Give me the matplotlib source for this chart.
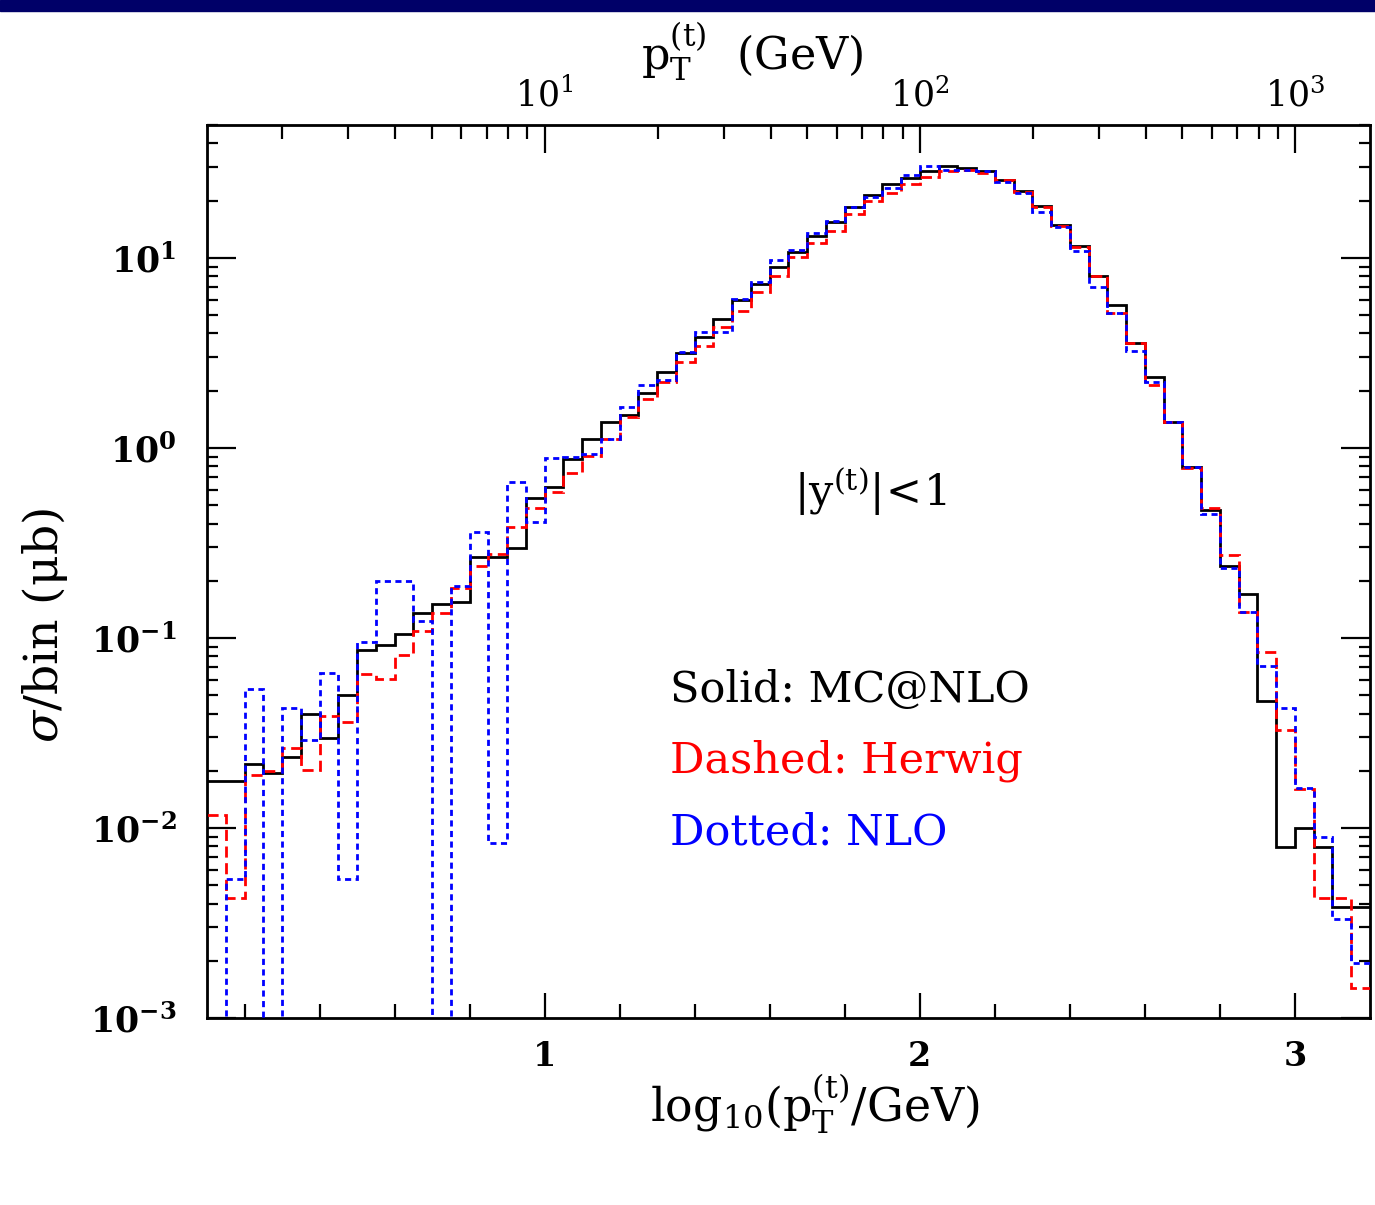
import numpy as np
import matplotlib
matplotlib.use("Agg")
import matplotlib.pyplot as plt
from matplotlib.patches import Rectangle

plt.rcParams['font.family'] = ['DejaVu Serif']
plt.rcParams['mathtext.fontset'] = 'dejavuserif'

# bin edges in log10(pT/GeV)
edges = np.round(np.arange(0.10, 3.2001, 0.05), 2)

# sigma/bin (mub), one value per bin
mcatnlo = [0.0177, 0.0177, 0.0216, 0.0195, 0.0237, 0.0398, 0.0297, 0.0501,
           0.0865, 0.0919, 0.105, 0.136, 0.151, 0.155, 0.268, 0.268,
           0.296, 0.547, 0.621, 0.871, 1.11, 1.36, 1.49, 1.94,
           2.52, 3.15, 3.81, 4.78, 5.97, 7.28, 8.90, 10.7,
           13.1, 15.5, 18.6, 21.3, 24.4, 26.3, 28.5, 30.5,
           29.6, 28.5, 25.7, 22.6, 18.8, 14.9, 11.5, 8.03,
           5.64, 3.58, 2.37, 1.36, 0.79, 0.47, 0.239, 0.170,
           0.0468, 0.0079, 0.00995, 0.00797, 0.00386, 0.00386]

herwig = [0.0117, 0.00427, 0.0190, 0.0200, 0.0262, 0.0202, 0.0386, 0.0360,
          0.0647, 0.0609, 0.0814, 0.109, 0.136, 0.182, 0.238, 0.277,
          0.383, 0.482, 0.589, 0.736, 0.91, 1.11, 1.46, 1.80,
          2.21, 2.83, 3.44, 4.35, 5.26, 6.65, 8.03, 10.1,
          11.9, 13.9, 17.0, 19.8, 21.9, 24.4, 26.5, 28.5,
          29.0, 27.9, 25.7, 22.3, 18.6, 14.7, 11.4, 8.03,
          5.15, 3.58, 2.15, 1.36, 0.78, 0.48, 0.273, 0.137,
          0.0848, 0.0328, 0.016, 0.00427, 0.00427, 0.00143]

# empty bins are 0 in the NLO histogram
nlo = [0, 0.00537, 0.0537, 0, 0.0427, 0.029, 0.0652, 0.00537,
       0.0957, 0.200, 0.200, 0.123, 0, 0.188, 0.360, 0.00837,
       0.665, 0.409, 0.88, 0.90, 0.93, 1.11, 1.64, 2.13,
       2.28, 3.21, 4.05, 4.05, 6.07, 7.5, 9.75, 11.0,
       13.5, 15.7, 18.5, 21.0, 23.3, 27.4, 30.3, 29.0,
       29.0, 28.5, 25.2, 21.9, 17.5, 14.6, 10.8, 7.06,
       5.12, 3.25, 2.21, 1.36, 0.79, 0.45, 0.233, 0.137,
       0.0713, 0.0427, 0.0162, 0.0090, 0.00331, 0.00195]

x_major = [1, 2, 3]
y_major = [1e-3, 1e-2, 1e-1, 1e0, 1e1]
y_labels = [r'$\mathbf{10^{-3}}$', r'$\mathbf{10^{-2}}$', r'$\mathbf{10^{-1}}$',
            r'$\mathbf{10^{0}}$', r'$\mathbf{10^{1}}$']

xmin, xmax = 0.1, 3.2
ymin, ymax = 1e-3, 50


def positive(vals):
    v = np.asarray(vals, dtype=float)
    return np.where(v > 0, v, 1e-9)  # empty bins drop below the frame


fig = plt.figure(figsize=(13.75, 12.05), dpi=100)
fig.patches.append(Rectangle((0, 1 - 11 / 1205), 1, 11 / 1205,
                             transform=fig.transFigure, color='#000068', zorder=0))

ax = fig.add_axes([207 / 1375, 1 - 1018 / 1205, 1163 / 1375, 893 / 1205])

ax.stairs(positive(mcatnlo), edges, baseline=None, color='black', lw=2.0, zorder=2)
ax.stairs(positive(herwig), edges, baseline=None, color='#ff0000', lw=2.0,
          linestyle=(0, (4, 2)), zorder=3)
ax.stairs(positive(nlo), edges, baseline=None, color='#0000ff', lw=2.0,
          linestyle=(0, (2.2, 1.6)), zorder=4)

ax.set_yscale('log')
ax.set_xlim(xmin, xmax)
ax.set_ylim(ymin, ymax)
ax.set_xticks(x_major)
ax.set_xticklabels([str(v) for v in x_major], fontweight='bold')
ax.set_xticks(np.arange(0.2, 3.2, 0.2), minor=True)
ax.set_yticks(y_major)
ax.set_yticklabels(y_labels)

for s in ax.spines.values():
    s.set_linewidth(2)

ax.tick_params(which='both', direction='in', right=True, top=False, width=1.6)
ax.tick_params(axis='y', which='major', length=21, labelsize=25, pad=22)
ax.tick_params(axis='y', which='minor', length=8)
ax.tick_params(axis='x', which='major', length=18, labelsize=24, pad=16)
ax.tick_params(axis='x', which='minor', length=10)

ax.set_xlabel(r'$\mathrm{log_{10}(p_T^{(t)}/GeV)}$', fontsize=33)
ax.xaxis.set_label_coords(0.523, -0.06)
ax.set_ylabel(r'$\sigma\mathrm{/bin\ (\mu b)}$', fontsize=34)
ax.yaxis.set_label_coords(-0.118, 0.44)

# top axis in pT itself
ax2 = ax.twiny()
ax2.set_xscale('log')
ax2.set_xlim(10 ** xmin, 10 ** xmax)
ax2.tick_params(which='both', direction='in', width=1.6)
ax2.tick_params(which='major', length=20, labelsize=25, pad=8)
ax2.tick_params(which='minor', length=10)
ax2.set_xlabel(r'$\mathrm{p_T^{(t)}}$  (GeV)', fontsize=32)
ax2.xaxis.set_label_coords(0.469, 1.062)

ax.text(0.570, 0.589, r'$|\mathrm{y^{(t)}}|\!<\!1$', transform=ax.transAxes,
        fontsize=31, ha='center', va='center')
ax.text(0.398, 0.354, 'Solid: MC@NLO', transform=ax.transAxes,
        fontsize=31, color='black', va='baseline')
ax.text(0.398, 0.275, 'Dashed: Herwig', transform=ax.transAxes,
        fontsize=31, color='#ff0000', va='baseline')
ax.text(0.398, 0.194, 'Dotted: NLO', transform=ax.transAxes,
        fontsize=31, color='#0000ff', va='baseline')

fig.savefig('out.png', dpi=100)
